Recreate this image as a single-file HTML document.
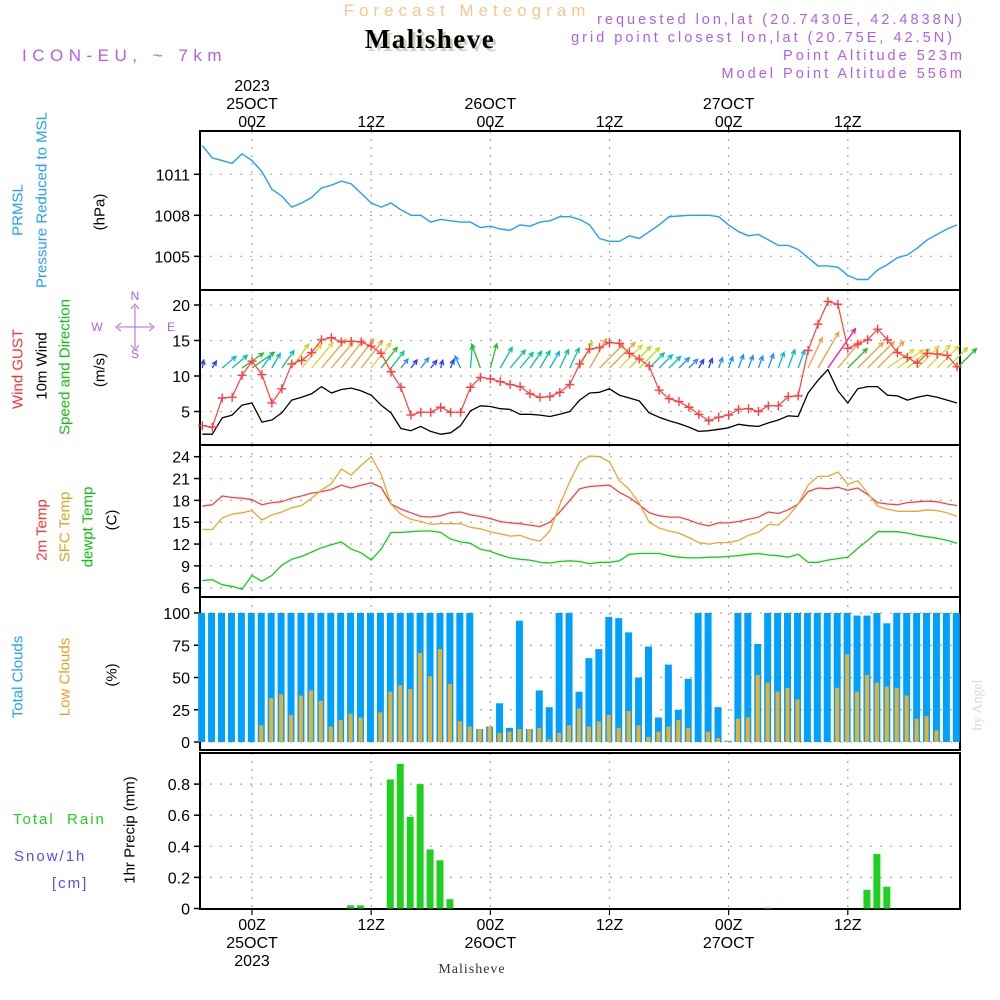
<!DOCTYPE html>
<html><head><meta charset="utf-8"><style>
html,body{margin:0;padding:0;background:#fff;}
svg{display:block;font-family:"Liberation Sans",sans-serif;}
</style></head><body>
<svg id="chart" width="1000" height="1000" viewBox="0 0 1000 1000" xmlns="http://www.w3.org/2000/svg">
<rect width="1000" height="1000" fill="#fff"/>
<text x="467" y="16" text-anchor="middle" font-size="17" fill="#f2c890" letter-spacing="5">Forecast Meteogram</text>
<text x="433" y="51" text-anchor="middle" font-size="27" font-weight="bold" font-family="Liberation Serif,serif" fill="#c8d8c0" letter-spacing="1.5">Malisheve</text>
<text x="430" y="48" text-anchor="middle" font-size="27" font-weight="bold" font-family="Liberation Serif,serif" fill="#000" letter-spacing="1.5">Malisheve</text>
<text x="22" y="61" font-size="17" fill="#b060e8" letter-spacing="5.5">ICON-EU, ~ 7km</text>
<g font-size="14.5" fill="#b060e8" text-anchor="end" letter-spacing="3">
<text x="965" y="24">requested lon,lat (20.7430E, 42.4838N)</text>
<text x="955" y="42">grid point closest lon,lat (20.75E, 42.5N)</text>
<text x="965" y="60">Point Altitude 523m</text>
<text x="965" y="78">Model Point Altitude 556m</text>
</g>
<g id="plot"></g>
<g font-size="15" text-anchor="middle">
<text transform="translate(18,210) rotate(-90)" fill="#20a0ff" dominant-baseline="central">PRMSL</text>
<text transform="translate(42,200) rotate(-90)" fill="#20a0ff" dominant-baseline="central">Pressure Reduced to MSL</text>
<text transform="translate(100,212) rotate(-90)" fill="#000" dominant-baseline="central">(hPa)</text>
<text transform="translate(18,369) rotate(-90)" fill="#ff3030" dominant-baseline="central">Wind GUST</text>
<text transform="translate(42,366) rotate(-90)" fill="#000" dominant-baseline="central">10m Wind</text>
<text transform="translate(65,367) rotate(-90)" fill="#10c010" dominant-baseline="central">Speed and Direction</text>
<text transform="translate(100,370) rotate(-90)" fill="#000" dominant-baseline="central">(m/s)</text>
<text transform="translate(42,530) rotate(-90)" fill="#ff3030" dominant-baseline="central">2m Temp</text>
<text transform="translate(65,527) rotate(-90)" fill="#e8a020" dominant-baseline="central">SFC Temp</text>
<text transform="translate(88,527) rotate(-90)" fill="#10c010" dominant-baseline="central">dewpt Temp</text>
<text transform="translate(112,520) rotate(-90)" fill="#000" dominant-baseline="central">(C)</text>
<text transform="translate(18,677) rotate(-90)" fill="#20a0ff" dominant-baseline="central">Total Clouds</text>
<text transform="translate(65,677) rotate(-90)" fill="#e8a020" dominant-baseline="central">Low Clouds</text>
<text transform="translate(112,675) rotate(-90)" fill="#000" dominant-baseline="central">(%)</text>
<text transform="translate(130,830) rotate(-90)" fill="#000" dominant-baseline="central">1hr Precip (mm)</text>
</g>
<text x="13" y="824" font-size="15" fill="#20d020" letter-spacing="2" xml:space="preserve">Total  Rain</text>
<text x="14" y="861" font-size="15" fill="#5050ff" letter-spacing="2">Snow/1h</text>
<text x="52" y="888" font-size="15" fill="#5050ff" letter-spacing="2">[cm]</text>
<text x="135" y="300" text-anchor="middle" font-size="12" fill="#b060e8">N</text>
<text x="135" y="358" text-anchor="middle" font-size="12" fill="#b060e8">S</text>
<text x="97" y="331" text-anchor="middle" font-size="12" fill="#b060e8">W</text>
<text x="171" y="331" text-anchor="middle" font-size="12" fill="#b060e8">E</text>
<path d="M118 327 H152 M135 306 V348 M121 323 L116 327 L121 331 M149 323 L154 327 L149 331 M131 309 L135 304 L139 309 M131 345 L135 350 L139 345" fill="none" stroke="#b060e8" stroke-width="1"/>
<text transform="translate(978,705) rotate(-90)" text-anchor="middle" font-family="Liberation Serif,serif" font-size="14" fill="#d8d8d8" dominant-baseline="central">by Angel</text>
<text x="472" y="973" text-anchor="middle" font-family="Liberation Serif,serif" font-size="14" fill="#333" letter-spacing="1">Malisheve</text>
</svg>
<script>
const hours = [];
for (let h = -5; h <= 71; h++) hours.push(h);
const pressure = [1013.1,1012.2,1012.0,1011.8,1012.5,1012.0,1011.2,1009.9,1009.4,1008.6,1008.9,1009.3,1010.0,1010.2,1010.5,1010.3,1009.6,1008.9,1008.6,1008.9,1008.4,1008.0,1008.0,1007.5,1007.7,1007.6,1007.5,1007.5,1007.1,1007.2,1007.0,1006.9,1007.3,1007.2,1007.5,1007.6,1007.9,1007.9,1007.7,1007.3,
1006.3,1006.1,1006.1,1006.5,1006.3,1006.8,1007.3,1007.9,1007.95,1008,1008,1008,1007.9,1007.3,1006.8,1006.5,1006.6,1006.2,1005.8,1005.8,1005.5,1004.9,1004.3,1004.3,1004.2,1003.6,1003.3,1003.3,1004.0,1004.4,1004.9,1005.1,1005.6,1006.2,1006.6,1007.0,1007.3];
const gust = [3.0,2.8,6.9,7.0,10.1,12.1,10.2,6.2,8.2,11.7,12.2,13.3,15.1,15.4,14.8,14.9,14.8,14.2,13.2,10.6,8.4,4.5,4.9,4.9,5.6,4.9,4.9,8.4,9.8,9.6,9.2,8.8,8.5,7.5,7.0,7.1,7.7,8.8,11.7,13.8,
14.0,14.7,14.6,13.2,12.4,11.4,8.0,6.8,6.4,5.6,4.6,3.7,4.2,4.5,5.3,5.4,5.0,5.8,5.8,7.1,7.2,13.6,17.3,20.5,20.1,13.9,14.5,15.1,16.6,15.1,13.3,12.6,11.8,13.2,13.1,12.9,11.3];
const windSpeed = [1.8,1.8,4.1,4.5,5.9,6.2,3.5,3.8,4.8,6.6,7.0,7.5,8.5,7.6,8.1,8.3,7.9,7.3,5.9,4.8,2.6,2.3,2.9,2.2,1.8,2.0,3.0,5.1,5.8,5.7,5.4,5.3,4.6,4.6,4.5,4.3,4.6,5.0,6.6,7.6,
7.7,8.2,7.3,6.9,6.5,4.8,4.2,3.7,3.3,2.8,2.2,2.3,2.5,2.7,3.2,3.0,2.9,3.4,3.8,4.4,4.3,7.6,9.4,10.9,7.9,6.2,8.2,8.5,8.5,7.3,7.2,6.6,7.0,7.3,7.0,6.6,6.2];
const windDir = [190,210,230,230,235,235,215,210,215,215,
220,220,220,220,218,218,218,218,218,218,
218,218,218,218,195,200,155,185,160,195,
210,220,220,215,210,210,205,205,205,210,
225,225,225,225,225,225,225,225,225,225,
210,200,200,200,200,200,200,200,200,200,
200,205,210,215,220,225,225,225,225,235,
235,230,225,225,225,225,225];
const temp2m = [17.2,17.4,18.6,18.4,18.3,18.1,17.4,17.7,17.8,18.3,18.6,19.0,19.2,19.5,20.1,19.7,20.1,20.4,19.8,17.5,16.8,16.3,15.8,15.7,15.9,16.3,16.4,16.0,15.8,15.5,15.1,14.9,14.8,14.6,14.4,15.0,16.4,18.0,19.6,
19.9,20.0,20.1,19.1,18.4,17.4,16.3,15.9,15.7,15.7,15.3,14.8,14.5,14.9,14.9,15.1,15.4,15.7,16.4,16.2,16.7,17.5,19.2,19.7,19.6,19.8,19.4,19.7,18.8,17.7,17.5,17.4,17.7,17.8,17.9,17.8,17.5,17.3];
const tempSfc = [14.0,14.0,15.6,16.1,16.3,16.6,15.3,16.0,16.4,17.0,17.3,18.3,19.4,20.3,22.3,21.5,22.8,24.0,21.6,17.5,16.1,15.4,15.1,14.7,14.8,14.8,14.8,14.3,14.1,13.7,13.4,13.1,13.2,12.7,12.4,13.8,17.4,20.6,23.3,
24.1,24.0,23.3,20.7,19.5,17.6,15.0,14.2,13.8,13.5,12.9,12.2,12.0,12.2,12.2,12.5,13.2,13.6,14.7,14.6,15.8,17.5,20.1,21.3,21.3,21.9,20.2,20.7,19.0,17.2,16.8,16.5,16.5,16.5,16.7,16.6,16.3,15.8];
const dewpt = [7.0,7.1,6.4,6.2,5.8,7.7,6.9,7.7,9.1,9.9,10.3,10.9,11.5,11.9,12.3,11.3,10.8,9.8,11.3,13.6,13.6,13.7,13.8,13.8,13.6,12.7,12.3,12.1,11.3,11.0,10.5,10.1,9.9,9.8,9.5,9.4,9.6,9.7,9.6,
9.3,9.5,9.5,9.7,10.6,10.7,10.7,10.7,10.4,10.2,10.1,10.1,10.2,10.2,10.3,10.4,10.6,10.7,10.5,10.4,10.2,10.6,9.5,9.5,9.8,10.0,10.2,11.4,12.5,13.7,13.7,13.7,13.5,13.2,13.0,12.8,12.5,12.1];
const totalClouds = [100,100,100,100,100,100,100,100,100,100,100,100,100,100,100,100,100,100,100,100,100,100,100,100,100,100,100,100,10,12,30,11,94,10,40,27,100,100,39,
65,72,97,96,85,50,74,19,60,25,49,100,100,27,1,100,100,76,100,100,100,100,100,100,100,100,100,98,98,100,92,100,100,100,100,100,100,100];
const lowClouds = [0,0,0,0,0,0,13,34,37,21,36,40,32,12,17,22,19,0,23,39,44,41,69,51,72,45,16,12,10,12,7,8,10,10,11,2,7,13,26,
12,16,21,11,24,13,4,8,12,17,11,0,8,3,1,18,19,52,46,39,42,33,0,0,0,42,68,39,52,46,43,42,36,18,20,9,0,0];
const precip = [0,0,0,0,0,0,0,0,0,0,0,0,0,0,0,0.02,0.02,0,0,0.83,0.93,0.59,0.80,0.38,0.31,0.06,
0,0,0,0,0,0,0,0,0,0,0,0,0,0,0,0,0,0,0,0,0,0,0,0,0,0,0,0,0,0,0,0.005,0,0,0,0,0,0,0,0,0,0.12,0.35,0.14,0,0,0,0,0,0,0];
const pTicks = [1005,1008,1011];
const wTicks = [5,10,15,20];
const tTicks = [6,9,12,15,18,21,24];
const cTicks = [0,25,50,75,100];
const rTicks = [0,0.2,0.4,0.6,0.8];
const timeTicks = [0,12,24,36,48,60];
const timeLabels = ["00Z","12Z","00Z","12Z","00Z","12Z"];
const dayLabels = ["25OCT","","26OCT","","27OCT",""];

const NS = "http://www.w3.org/2000/svg";
const plot = document.getElementById("plot");
function mk(tag, attrs, parent) {
  const e = document.createElementNS(NS, tag);
  for (const k in attrs) e.setAttribute(k, attrs[k]);
  (parent || plot).appendChild(e);
  return e;
}
const X0 = 200, X1 = 960;
function xS(h) { return 252 + h * 9.93; }
const yP = v => 215.3 + (1008 - v) * 13.67;
const yW = v => 447 - v * 7.1;
const yT = v => 456.7 + (24 - v) * 7.28;
const yC = v => 742 - v * 1.29;
const yR = v => 908.5 - v * 155.5;
const panels = [
  {name:"pressure-panel", top:131, bot:290, ticks:pTicks, y:yP, fmt:v=>v},
  {name:"wind-panel", top:290, bot:445, ticks:wTicks, y:yW, fmt:v=>v},
  {name:"temp-panel", top:445, bot:597, ticks:tTicks, y:yT, fmt:v=>v},
  {name:"cloud-panel", top:597, bot:750, ticks:cTicks, y:yC, fmt:v=>v},
  {name:"precip-panel", top:753, bot:909, ticks:rTicks, y:yR, fmt:v=>v===0?"0":v.toFixed(1)}
];
panels.forEach(p => {
  const g = mk("g", {});
  
  
  timeTicks.forEach(t => {
    mk("line", {x1:xS(t), x2:xS(t), y1:p.top, y2:p.bot, stroke:"#aaa", "stroke-width":1.2, "stroke-dasharray":"2,6"}, g);
  });
  p.ticks.forEach(v => {
    const y = p.y(v);
    if (y > p.top + 3 && y < p.bot - 3) mk("line", {x1:X0, x2:X1, y1:y, y2:y, stroke:"#aaa", "stroke-width":1.2, "stroke-dasharray":"2,8"}, g);
    mk("line", {x1:X0-6, x2:X0, y1:y, y2:y, stroke:"#000", "stroke-width":1.5}, g);
    const t = mk("text", {x:X0-10, y:y+6, "text-anchor":"end", "font-size":16, fill:"#000"}, g);
    t.textContent = p.fmt(v);
  });
  mk("rect", {x:X0, y:p.top, width:X1-X0, height:p.bot-p.top, fill:"none", stroke:"#000", "stroke-width":2}, g);
});
timeTicks.forEach((t, i) => {
  const x = xS(t);
  mk("line", {x1:x, x2:x, y1:125, y2:131, stroke:"#000", "stroke-width":1.2});
  mk("line", {x1:x, x2:x, y1:909, y2:915, stroke:"#000", "stroke-width":1.2});
  const a = mk("text", {x:x, y:127, "text-anchor":"middle", "font-size":16, fill:"#000"});
  
  
  a.textContent = timeLabels[i];
  const b = mk("text", {x:x, y:930, "text-anchor":"middle", "font-size":16, fill:"#000"});
  
  
  b.textContent = timeLabels[i];
  if (dayLabels[i]) {
    const c = mk("text", {x:x, y:109, "text-anchor":"middle", "font-size":16, fill:"#000"});
    
    
    c.textContent = dayLabels[i];
    const d = mk("text", {x:x, y:948, "text-anchor":"middle", "font-size":16, fill:"#000"});
    
    
    d.textContent = dayLabels[i];
  }
});
const y1 = mk("text", {x:xS(0), y:91, "text-anchor":"middle", "font-size":16, fill:"#000"});


y1.textContent = "2023";
const y2 = mk("text", {x:xS(0), y:966, "text-anchor":"middle", "font-size":16, fill:"#000"});


y2.textContent = "2023";

function line(arr, yf, color, name, w) {
  const d = arr.map((v, i) => (i ? "L" : "M") + xS(hours[i]).toFixed(1) + " " + yf(v).toFixed(1)).join(" ");
  const p = mk("path", {d:d, fill:"none", stroke:color, "stroke-width":w || 1.3, "stroke-linejoin":"round"});
  
  
  return p;
}
line(pressure, yP, "#20a0ff", "pressure-line", 1.4);
totalClouds.forEach((v, i) => {
  const x = xS(hours[i]) - 0.7;
  const r = mk("rect", {x:x-3.5, y:yC(v), width:7, height:yC(0)-yC(v), fill:"#00a0ff"});
  
  
});
lowClouds.forEach((v, i) => {
  if (v <= 0) return;
  const x = xS(hours[i]) - 0.7;
  const r = mk("rect", {x:x-2, y:yC(v), width:4, height:yC(0)-yC(v), fill:"#e8b030"});
  
  
});
precip.forEach((v, i) => {
  if (v <= 0) return;
  const x = xS(hours[i]) - 0.7;
  const r = mk("rect", {x:x-3.5, y:yR(v), width:7, height:yR(0)-yR(v), fill:"#20d020"});
  
  
});
line(temp2m, yT, "#ff4040", "temp-2m-line");
line(tempSfc, yT, "#e8a830", "temp-sfc-line");
line(dewpt, yT, "#10d010", "dewpoint-line");
function spdColor(s) {
  if (s < 2.5) return "#2040ff";
  if (s < 3.5) return "#1e90ff";
  if (s < 4.5) return "#00bcd4";
  if (s < 5.5) return "#00c890";
  if (s < 6.3) return "#20c020";
  if (s < 7.0) return "#b0e020";
  if (s < 7.6) return "#e8d030";
  if (s < 9.5) return "#f0a040";
  return "#ff1493";
}
windSpeed.forEach((s, i) => {
  const x = xS(hours[i]);
  const by = 368;
  const len = Math.max(8, s * 4.4);
  const th = (windDir[i] + 180) * Math.PI / 180;
  const ex = x + Math.sin(th) * len, ey = by - Math.cos(th) * len;
  const hl = 5, a1 = th + Math.PI - 0.45, a2 = th + Math.PI + 0.45;
  const d = `M${x} ${by} L${ex.toFixed(1)} ${ey.toFixed(1)} M${(ex+Math.sin(a1)*hl).toFixed(1)} ${(ey-Math.cos(a1)*hl).toFixed(1)} L${ex.toFixed(1)} ${ey.toFixed(1)} L${(ex+Math.sin(a2)*hl).toFixed(1)} ${(ey-Math.cos(a2)*hl).toFixed(1)}`;
  const p = mk("path", {d:d, fill:"none", stroke:spdColor(s), "stroke-width":1.3});
  
  
});
line(windSpeed, yW, "#000", "wind-speed-line", 1.3);
line(gust, yW, "#ff4040", "gust-line", 1.2);
gust.forEach((v, i) => {
  const x = xS(hours[i]), y = yW(v);
  const p = mk("path", {d:`M${x-4.5} ${y} H${x+4.5} M${x} ${y-4.5} V${y+4.5}`, stroke:"#ff4040", "stroke-width":1.4});
  
  
});
</script>
</body></html>
